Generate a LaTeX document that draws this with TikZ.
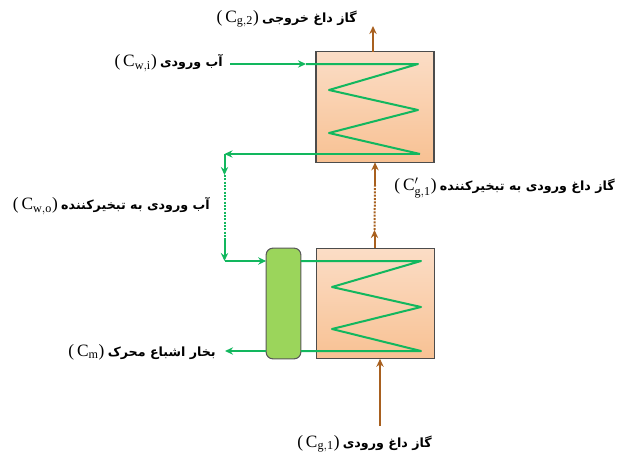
\documentclass[tikz,border=0pt]{standalone}
\usepackage{xcolor}
\usepackage{fontspec}
\setmainfont{Liberation Serif}
\newfontfamily\arabicfont[Script=Arabic]{DejaVu Sans}
\TeXXeTstate=1
\usetikzlibrary{arrows.meta,positioning}
\definecolor{flowgreen}{HTML}{12B75E}
\definecolor{gasbrown}{HTML}{A8601F}
\definecolor{boxtop}{HTML}{FBDDC6}
\definecolor{boxbot}{HTML}{F8C193}
\definecolor{sepgreen}{HTML}{9BD55B}
\newcommand{\fatext}[1]{{\arabicfont\bfseries\fontsize{9.5}{11}\selectfont\beginR #1\endR}}
\newcommand{\cname}[1]{{\fontsize{13}{15}\selectfont (\,C$_{\mathrm{#1}}$)}}
\begin{document}
\begin{tikzpicture}[x=.75pt,y=-.75pt,>={Stealth[length=6pt,width=5.5pt]}]
\tikzstyle{hxbox}=[draw=black!70,line width=.8pt,top color=boxtop,bottom color=boxbot,minimum width=88.5pt,minimum height=83pt,inner sep=0pt,outer sep=0pt]
\tikzstyle{sepbox}=[draw=black!65,line width=.8pt,fill=sepgreen,rounded corners=5pt,minimum width=26pt,minimum height=83pt,inner sep=0pt,outer sep=0pt]
\tikzstyle{water}=[draw=flowgreen,line width=1.5pt,line join=round]
\tikzstyle{gas}=[draw=gasbrown,line width=1.5pt]
\tikzstyle{lbl}=[anchor=east,inner sep=0pt,align=center]
\useasboundingbox (0,0) rectangle (617,457);
\node[hxbox] (upper) at (375,107) {};
\node[hxbox] (lower) at (375.5,303.5) {};
\node[sepbox] (sep) at (283.5,303.5) {};
% labels
\node[lbl] (cgout) at (357,19) {\cname{g,2}\ \fatext{گاز داغ خروجی}};
\node[lbl] (cwi) at (223,63) {\cname{w,i}\ \fatext{آب ورودی}};
\node[lbl] (cwo) at (210,206) {\cname{w,o}\ \fatext{آب ورودی به تبخیرکننده}};
\node[lbl] (cgmid) at (615,188) {{\fontsize{13}{15}\selectfont (\,C$'_{\mathrm{g,1}}$)}\ \fatext{گاز داغ ورودی به تبخیرکننده}};
\node[lbl] (cm) at (216,352) {\cname{m}\ \fatext{بخار اشباع محرک}};
\node[lbl] (cgin) at (432,444) {\cname{g,1}\ \fatext{گاز داغ ورودی}};
% upper coil
\coordinate (uin) at (230,64);
\coordinate (ua) at (306,64);
\coordinate (ub) at (418,64);
\coordinate (uc) at (329,90);
\coordinate (ud) at (418,110);
\coordinate (ue) at (329,133);
\coordinate (uf) at (420,154);
\coordinate (ug) at (224.5,154);
\coordinate (uh) at (224.5,175);
\coordinate (ui) at (224.5,238);
\coordinate (uj) at (224.5,261);
\draw[water,->] (uin) -- (ua);
\draw[water] (ua) -- (ub) -- (uc) -- (ud) -- (ue) -- (uf);
\draw[water,->] (uf) -- (ug);
\draw[water,->] (ug) -- (uh);
\draw[water,densely dotted] (uh) -- (ui);
\draw[water,->] (ui) -- (uj);
\draw[water,->] (uj) -- (uj-|sep.west);
% lower coil
\coordinate (la) at (421,261);
\coordinate (lb) at (332,287);
\coordinate (lc) at (421,307);
\coordinate (ld) at (332,329);
\coordinate (le) at (421,351);
\coordinate (lout) at (225,351);
\draw[water] (la-|sep.east) -- (la) -- (lb) -- (lc) -- (ld) -- (le) -- (le-|sep.east);
\draw[water,->] (lout-|sep.west) -- (lout);
% gas
\coordinate (gout) at (373,26);
\coordinate (gm) at (375,185);
\coordinate (gn) at (374.5,230);
\coordinate (gin) at (380,426);
\draw[gas,->] (gout|-upper.north) -- (gout);
\draw[gas,->] (gm) -- (gm|-upper.south);
\draw[gas,densely dotted] (gn) -- (gm);
\draw[gas,->] (gn|-lower.north) -- (gn);
\draw[gas,->] (gin) -- (gin|-lower.south);
\end{tikzpicture}
\end{document}
